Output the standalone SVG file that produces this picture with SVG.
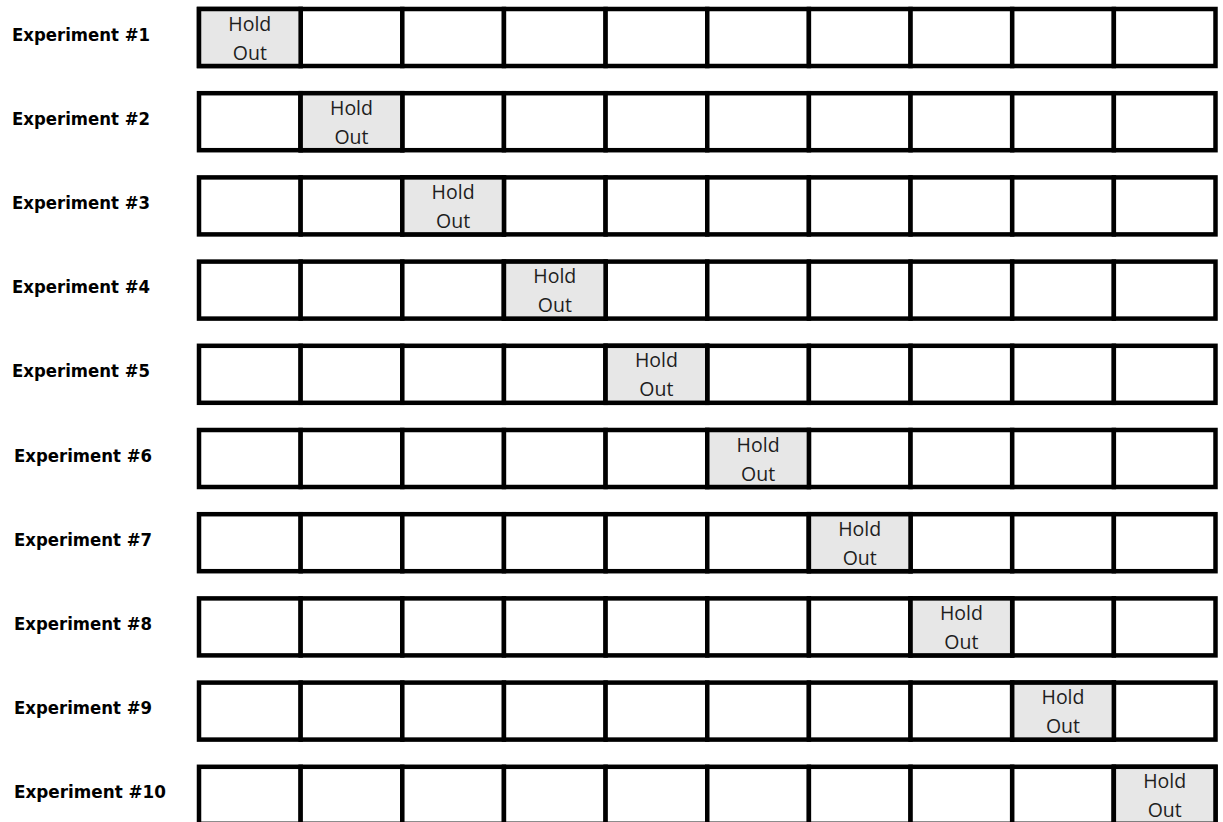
<svg xmlns="http://www.w3.org/2000/svg" width="1223" height="822" viewBox="0 0 1223 822">
<style>
.bg{fill:#ffffff}
.cell{fill:#ffffff;stroke:#000000;stroke-width:4.5}
.hold{fill:#e7e7e7;stroke:#000000;stroke-width:4.5}
.lbl{font-family:"DejaVu Sans","Liberation Sans",sans-serif;font-weight:bold;font-size:18px;fill:#000000}
.ho{font-family:"Open Sans","Noto Sans","Liberation Sans",sans-serif;font-size:19.5px;fill:#1e1e1e;text-anchor:middle}
</style>
<defs>
<g id="row">
<rect class="cell" x="199" y="0" width="101.65" height="57"/>
<rect class="cell" x="300.65" y="0" width="101.65" height="57"/>
<rect class="cell" x="402.3" y="0" width="101.65" height="57"/>
<rect class="cell" x="503.95" y="0" width="101.65" height="57"/>
<rect class="cell" x="605.6" y="0" width="101.65" height="57"/>
<rect class="cell" x="707.25" y="0" width="101.65" height="57"/>
<rect class="cell" x="808.9" y="0" width="101.65" height="57"/>
<rect class="cell" x="910.55" y="0" width="101.65" height="57"/>
<rect class="cell" x="1012.2" y="0" width="101.65" height="57"/>
<rect class="cell" x="1113.85" y="0" width="101.65" height="57"/>
</g>
</defs>
<rect class="bg" x="0" y="0" width="1223" height="822"/>

<g id="experiment-1" transform="translate(0,9)">
<text class="lbl" x="12" y="31.5" textLength="138" lengthAdjust="spacingAndGlyphs">Experiment #1</text>
<use href="#row"/>
<rect class="hold" x="199" y="0" width="101.65" height="57"/>
<text class="ho" x="249.8" y="21.5">Hold</text>
<text class="ho" x="249.8" y="50.5">Out</text>
</g>

<g id="experiment-2" transform="translate(0,93.2)">
<text class="lbl" x="12" y="31.5" textLength="138" lengthAdjust="spacingAndGlyphs">Experiment #2</text>
<use href="#row"/>
<rect class="hold" x="300.65" y="0" width="101.65" height="57"/>
<text class="ho" x="351.5" y="21.5">Hold</text>
<text class="ho" x="351.5" y="50.5">Out</text>
</g>

<g id="experiment-3" transform="translate(0,177.4)">
<text class="lbl" x="12" y="31.5" textLength="138" lengthAdjust="spacingAndGlyphs">Experiment #3</text>
<use href="#row"/>
<rect class="hold" x="402.3" y="0" width="101.65" height="57"/>
<text class="ho" x="453.1" y="21.5">Hold</text>
<text class="ho" x="453.1" y="50.5">Out</text>
</g>

<g id="experiment-4" transform="translate(0,261.6)">
<text class="lbl" x="12" y="31.5" textLength="138" lengthAdjust="spacingAndGlyphs">Experiment #4</text>
<use href="#row"/>
<rect class="hold" x="503.95" y="0" width="101.65" height="57"/>
<text class="ho" x="554.8" y="21.5">Hold</text>
<text class="ho" x="554.8" y="50.5">Out</text>
</g>

<g id="experiment-5" transform="translate(0,345.8)">
<text class="lbl" x="12" y="31.5" textLength="138" lengthAdjust="spacingAndGlyphs">Experiment #5</text>
<use href="#row"/>
<rect class="hold" x="605.6" y="0" width="101.65" height="57"/>
<text class="ho" x="656.4" y="21.5">Hold</text>
<text class="ho" x="656.4" y="50.5">Out</text>
</g>

<g id="experiment-6" transform="translate(0,430)">
<text class="lbl" x="14" y="31.5" textLength="138" lengthAdjust="spacingAndGlyphs">Experiment #6</text>
<use href="#row"/>
<rect class="hold" x="707.25" y="0" width="101.65" height="57"/>
<text class="ho" x="758.1" y="21.5">Hold</text>
<text class="ho" x="758.1" y="50.5">Out</text>
</g>

<g id="experiment-7" transform="translate(0,514.2)">
<text class="lbl" x="14" y="31.5" textLength="138" lengthAdjust="spacingAndGlyphs">Experiment #7</text>
<use href="#row"/>
<rect class="hold" x="808.9" y="0" width="101.65" height="57"/>
<text class="ho" x="859.7" y="21.5">Hold</text>
<text class="ho" x="859.7" y="50.5">Out</text>
</g>

<g id="experiment-8" transform="translate(0,598.4)">
<text class="lbl" x="14" y="31.5" textLength="138" lengthAdjust="spacingAndGlyphs">Experiment #8</text>
<use href="#row"/>
<rect class="hold" x="910.55" y="0" width="101.65" height="57"/>
<text class="ho" x="961.4" y="21.5">Hold</text>
<text class="ho" x="961.4" y="50.5">Out</text>
</g>

<g id="experiment-9" transform="translate(0,682.6)">
<text class="lbl" x="14" y="31.5" textLength="138" lengthAdjust="spacingAndGlyphs">Experiment #9</text>
<use href="#row"/>
<rect class="hold" x="1012.2" y="0" width="101.65" height="57"/>
<text class="ho" x="1063" y="21.5">Hold</text>
<text class="ho" x="1063" y="50.5">Out</text>
</g>

<g id="experiment-10" transform="translate(0,766.8)">
<text class="lbl" x="14" y="31.5" textLength="152" lengthAdjust="spacingAndGlyphs">Experiment #10</text>
<use href="#row"/>
<rect class="hold" x="1113.85" y="0" width="101.65" height="57"/>
<text class="ho" x="1164.7" y="21.5">Hold</text>
<text class="ho" x="1164.7" y="50.5">Out</text>
</g>

<g id="connectors"/>
</svg>
